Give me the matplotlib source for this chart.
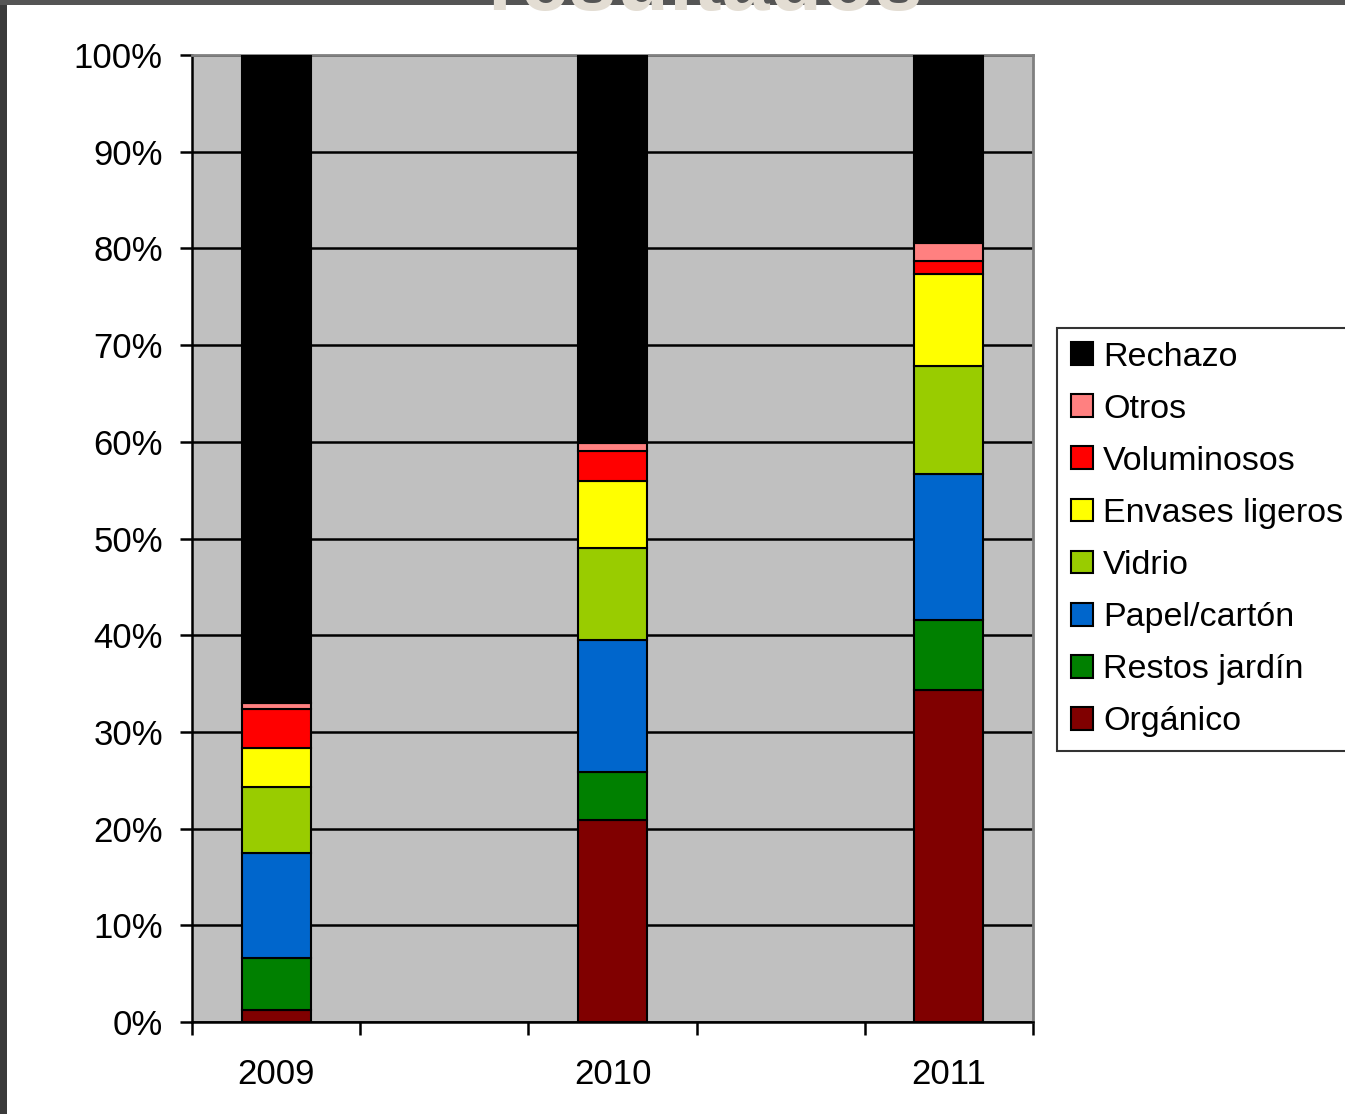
import matplotlib
matplotlib.use("Agg")
import matplotlib.pyplot as plt
from matplotlib.patches import Rectangle
import numpy as np

plt.rcParams['font.family'] = ['Liberation Sans', 'DejaVu Sans']

years = ["2009", "", "2010", "", "2011"]
categories = ["Orgánico", "Restos jardín", "Papel/cartón", "Vidrio",
              "Envases ligeros", "Voluminosos", "Otros", "Rechazo"]
colors = ["#800000", "#008000", "#0066CC", "#99CC00",
          "#FFFF00", "#FF0000", "#FF8080", "#000000"]
# percentages per category, for 2009, (gap), 2010, (gap), 2011
organico = [1.2, 0, 20.9, 0, 34.3]
jardin = [5.4, 0, 5.0, 0, 7.3]
papel = [10.9, 0, 13.6, 0, 15.1]
vidrio = [6.8, 0, 9.5, 0, 11.1]
envases = [4.0, 0, 6.9, 0, 9.6]
voluminosos = [4.1, 0, 3.1, 0, 1.3]
otros = [0.6, 0, 0.9, 0, 1.9]
rechazo = [67.0, 0, 40.1, 0, 19.4]
series = [organico, jardin, papel, vidrio, envases, voluminosos, otros, rechazo]

W, H = 1345, 1114
fig = plt.figure(figsize=(W / 100, H / 100), dpi=100)
fig.patch.set_facecolor("white")

# frame bands
fig.add_artist(Rectangle((0, 0), 7 / W, 1, transform=fig.transFigure,
                         facecolor="#3a3a3a", edgecolor="none", zorder=0))
fig.add_artist(Rectangle((0, 1 - 5 / H), 1, 5 / H, transform=fig.transFigure,
                         facecolor="#555555", edgecolor="none", zorder=0))
fig.text(705 / W, 1 - 10 / H, "resultados", ha="center", va="baseline",
         fontsize=62, fontweight="bold", color="#E3DDD3", zorder=1)

ax = fig.add_axes([192 / W, 1 - 1022 / H, (1033 - 192) / W, (1022 - 55) / H])
ax.set_facecolor("#C0C0C0")

x = np.arange(len(years))
bars_idx = [i for i, y in enumerate(years) if y]
handles = []
bottom = np.zeros(len(years))
for vals, name, col in zip(series, categories, colors):
    v = np.array(vals, dtype=float)
    b = ax.bar(x[bars_idx], v[bars_idx], bottom=bottom[bars_idx], width=0.41,
               color=col, edgecolor="black", linewidth=1.5, label=name, zorder=3)
    handles.append(b)
    bottom += v

ax.set_xlim(-0.5, len(years) - 0.5)
ax.set_ylim(0, 100)
ax.set_yticks(np.arange(0, 101, 10))
ax.set_yticklabels([f"{t}%" for t in range(0, 101, 10)])
ax.yaxis.grid(True, color="black", linewidth=1.8, zorder=1)
ax.set_axisbelow(True)

ax.set_xticks(np.arange(-0.5, len(years), 1.0))
ax.set_xticklabels([])
ax.set_xticks(x[bars_idx], minor=True)
ax.set_xticklabels([years[i] for i in bars_idx], minor=True)
ax.tick_params(axis="x", which="major", direction="out", length=9, width=1.8,
               color="black")
ax.tick_params(axis="x", which="minor", length=0, pad=26, labelsize=25)
ax.tick_params(axis="y", direction="out", length=9, width=1.8, pad=12,
               labelsize=25)

for s in ["left", "bottom"]:
    ax.spines[s].set_color("black")
    ax.spines[s].set_linewidth(1.8)
for s in ["top", "right"]:
    ax.spines[s].set_color("#808080")
    ax.spines[s].set_linewidth(2)

leg = fig.legend(handles[::-1], categories[::-1], loc="upper left",
                 bbox_to_anchor=(1057 / W, 1 - 328 / H), fontsize=24.5,
                 frameon=True, fancybox=False, handlelength=0.65,
                 handleheight=0.65, handletextpad=0.3, labelspacing=0.62,
                 borderpad=0.4, borderaxespad=0)
leg.get_frame().set_edgecolor("black")
leg.get_frame().set_linewidth(1.5)

fig.savefig("out.png", dpi=100)
